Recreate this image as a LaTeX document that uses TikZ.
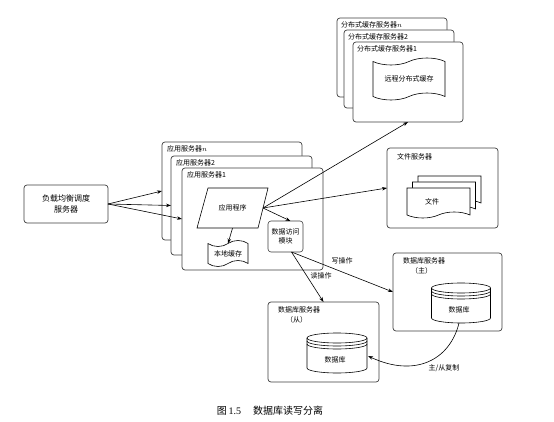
\documentclass[tikz,border=0pt]{standalone}
\usepackage{fontspec}
\setmainfont{Liberation Serif}
\newfontfamily\cjk{Noto Sans CJK SC}
\usetikzlibrary{shapes.symbols,arrows.meta,calc}
\begin{document}
\begin{tikzpicture}[x=1pt,y=-1pt,
  lbl/.style={font=\cjk\fontsize{7}{8.5}\selectfont, inner sep=0pt, align=center},
  srv/.style={draw=black!75, line width=0.7pt, rounded corners=3pt, fill=white, inner sep=0pt, outer sep=0pt},
  arr/.style={-{Stealth[length=5pt,width=3.5pt]}, line width=0.6pt},
  tp/.style={tape, draw, line width=0.6pt, fill=white, tape bend height=5pt, inner sep=0pt, outer sep=0pt, font=\cjk\fontsize{7}{8.5}\selectfont},
  cyl/.style={line width=0.6pt}
]
\useasboundingbox[fill=white] (0,0) rectangle (554,422);

% distributed cache servers
\node[srv, minimum width=110pt, minimum height=79pt] (dcn) at (392,57.5) {};
\node[lbl, anchor=north west] (dcnL) at ($(dcn.north west)+(4,3)$) {分布式缓存服务器$n$};
\node[srv, minimum width=110pt, minimum height=78pt] (dc2) at (399,69) {};
\node[lbl, anchor=north west] (dc2L) at ($(dc2.north west)+(4,3)$) {分布式缓存服务器2};
\node[srv, minimum width=110pt, minimum height=80pt] (dc1) at (408,82) {};
\node[lbl, anchor=north west] (dc1L) at ($(dc1.north west)+(4,3)$) {分布式缓存服务器1};
\node[tp, tape bend height=7pt, minimum width=72pt, minimum height=42pt] (rc) at (409,79) {远程分布式缓存};

% application servers
\node[srv, minimum width=140pt, minimum height=98pt] (appn) at (232,191) {};
\node[lbl, anchor=north west] (appnL) at ($(appn.north west)+(5,3)$) {应用服务器$n$};
\node[srv, minimum width=141pt, minimum height=99pt] (app2) at (241.5,205.5) {};
\node[lbl, anchor=north west] (app2L) at ($(app2.north west)+(5,3)$) {应用服务器2};
\node[srv, minimum width=141pt, minimum height=102pt] (app1) at (252.5,219) {};
\node[lbl, anchor=north west] (app1L) at ($(app1.north west)+(5,3)$) {应用服务器1};

% application program (parallelogram)
\draw[line width=0.6pt, fill=white] (208,188) -- (268,188) -- (258,228) -- (197,228) -- cycle;
\node[lbl, minimum width=61pt, minimum height=40pt] (prog) at (232.5,208) {应用程序};
\coordinate (progR) at (263,208);

% local cache
\node[tp, tape bend height=6pt, minimum width=40pt, minimum height=26pt] (lc) at (228,253.5) {本地缓存};
% data access module
\node[srv, line width=0.6pt, minimum width=35pt, minimum height=31pt, font=\cjk\fontsize{7}{9}\selectfont, align=center] (dam) at (285.5,236.5) {数据访问\\模块};
\coordinate (damIn) at ($(dam.north)+(5,0)$);
\coordinate (damOut) at ($(dam.south)+(6,0)$);

% load balancer
\node[srv, minimum width=84pt, minimum height=38pt, font=\cjk\fontsize{8}{11}\selectfont, align=center] (lb) at (66,204) {负载均衡调度\\服务器};

% file server
\node[srv, minimum width=111pt, minimum height=80pt] (fs) at (442.5,188) {};
\node[lbl, anchor=north west] (fsL) at ($(fs.north west)+(10,5)$) {文件服务器};
\node[tp, tape bend top=none, tape bend height=6pt, minimum width=63pt, minimum height=30pt] (doc3) at (449.5,188) {};
\node[tp, tape bend top=none, tape bend height=6pt, minimum width=63pt, minimum height=30pt] (doc2) at (444,194) {};
\node[tp, tape bend top=none, tape bend height=6pt, minimum width=63pt, minimum height=30pt] (doc1) at (438.5,200) {};
\node[lbl] (docT) at (432,202) {文件};

% database master
\node[srv, minimum width=109pt, minimum height=78pt] (dbm) at (447.5,292) {};
\node[lbl, anchor=north west] (dbmL) at ($(dbm.north west)+(10,4)$) {数据库服务器};
\node[lbl, anchor=north west] (dbmL2) at ($(dbm.north west)+(18,14)$) {（主）};
\fill[white] (431.5,288) -- (431.5,318) arc[start angle=180,end angle=0,x radius=29.5,y radius=5] -- (490.5,288) arc[start angle=0,end angle=180,x radius=29.5,y radius=5];
\draw[cyl] (431.5,288) -- (431.5,318) arc[start angle=180,end angle=0,x radius=29.5,y radius=5] -- (490.5,288);
\draw[cyl] (461,288) ellipse[x radius=29.5,y radius=5];
\draw[cyl] (431.5,291) arc[start angle=180,end angle=0,x radius=29.5,y radius=5];
\draw[cyl] (431.5,294) arc[start angle=180,end angle=0,x radius=29.5,y radius=5];
\node[lbl] (dbmT) at (459,310) {数据库};
\coordinate (dbmB) at (459,323);

% database slave
\node[srv, minimum width=111pt, minimum height=80pt] (dbs) at (323.5,342) {};
\node[lbl, anchor=north west] (dbsL) at ($(dbs.north west)+(10,4)$) {数据库服务器};
\node[lbl, anchor=north west] (dbsL2) at ($(dbs.north west)+(18,14)$) {（从）};
\fill[white] (307,338) -- (307,368) arc[start angle=180,end angle=0,x radius=30,y radius=5] -- (367,338) arc[start angle=0,end angle=180,x radius=30,y radius=5];
\draw[cyl] (307,338) -- (307,368) arc[start angle=180,end angle=0,x radius=30,y radius=5] -- (367,338);
\draw[cyl] (337,338) ellipse[x radius=30,y radius=5];
\draw[cyl] (307,341) arc[start angle=180,end angle=0,x radius=30,y radius=5];
\draw[cyl] (307,344) arc[start angle=180,end angle=0,x radius=30,y radius=5];
\node[lbl] (dbsT) at (335,360) {数据库};
\coordinate (dbsR) at (368,356);

% connectors
\draw[arr] (lb.east) -- (appn.west);
\draw[arr] (lb.east) -- (app2.west);
\draw[arr] (lb.east) -- (app1.west);
\draw[arr] (progR) -- (dc1.south);
\draw[arr] (progR) -- (fs.west);
\draw[arr] (progR) -- (damIn);
\draw[arr] (prog.south) -- (lc.north);
\draw[arr] (damOut) -- (dbm.west);
\draw[arr] (damOut) -- (dbs.north);
\draw[arr] (dbmB) .. controls (450,360) and (415,378) .. (dbsR);

\node[lbl] (wr) at (342,261) {写操作};
\node[lbl] (rd) at (321,276) {读操作};
\node[lbl] (rep) at (444,368) {主/从复制};

% caption
\node[font=\fontsize{10}{12}\selectfont, inner sep=0pt] (cap) at (270,411) {{\cjk 图}\,1.5\hspace{1.2em}{\cjk 数据库读写分离}};
\end{tikzpicture}
\end{document}
